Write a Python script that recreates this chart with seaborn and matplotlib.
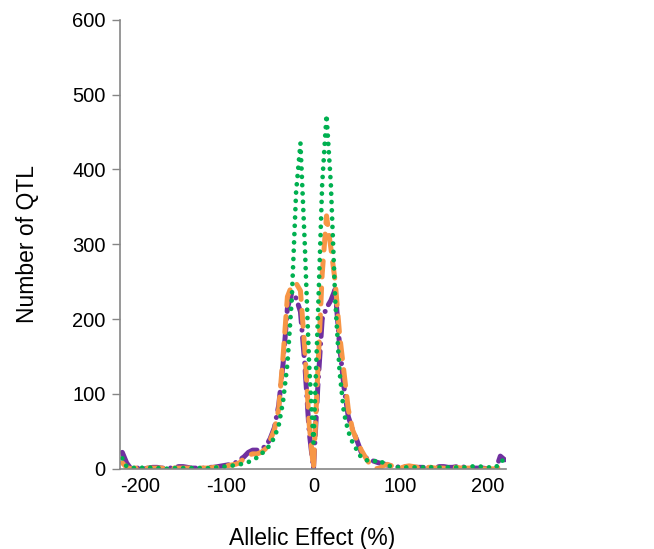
import numpy as np
import pandas as pd
import matplotlib
matplotlib.use("Agg")
import matplotlib.pyplot as plt
import seaborn as sns

# allelic effect bins (%)
effect = list(range(-220, 225, 5))

purple_counts = [
    # -220 .. -95
    22, 8, 0, 1, 1, 0, 1, 2, 2, 1, 1, 1, 2, 3, 3, 2, 1, 1, 1, 1, 2, 2, 3, 4, 5, 6,
    # -90 .. 90
    8, 12, 16, 22, 25, 25, 27, 30, 40, 55, 85, 140, 215, 235, 228, 210, 140, 50,
    0,
    110, 200, 215, 225, 240, 165, 110, 70, 52, 38, 22, 15, 12, 10, 8, 7, 5, 4,
    # 95 .. 220
    3, 2, 3, 3, 2, 2, 2, 2, 2, 2, 3, 3, 2, 2, 3, 3, 2, 1, 1, 1, 1, 0, 0, 0, 17, 12,
]
orange_counts = [
    8, 2, 0, 1, 1, 1, 1, 1, 1, 1, 0, 1, 1, 1, 1, 1, 1, 1, 1, 1, 1, 2, 2, 3, 4, 5,
    6, 8, 14, 18, 20, 20, 22, 27, 38, 52, 80, 150, 230, 245, 248, 238, 160, 60,
    0,
    130, 260, 338, 295, 250, 180, 130, 80, 52, 38, 25, 15, 6, 1, 0, 4, 6, 4,
    1, 1, 3, 4, 3, 2, 2, 2, 2, 1, 1, 1, 1, 2, 2, 1, 1, 1, 1, 1, 0, 0, 0, 0, 4, 8,
]
green_counts = [
    14, 3, 2, 1, 2, 1, 2, 1, 1, 1, 0, 1, 1, 2, 1, 1, 1, 2, 1, 1, 1, 2, 2, 3, 3, 4,
    5, 6, 7, 9, 12, 15, 20, 25, 32, 42, 58, 90, 140, 226, 370, 435, 300, 140,
    35,
    200, 380, 473, 380, 226, 130, 75, 50, 35, 25, 15, 12, 10, 10, 12, 8, 5, 3,
    2, 2, 2, 2, 2, 2, 2, 2, 2, 2, 2, 2, 2, 2, 2, 2, 2, 2, 4, 3, 3, 2, 2, 2, 10, 12,
]

y_ticks = [0, 100, 200, 300, 400, 500, 600]
x_ticks = [-200, -100, 0, 100, 200]

sns.set_style("white")
plt.rcParams["font.family"] = ["Liberation Sans", "DejaVu Sans"]
plt.rcParams["axes.unicode_minus"] = False
plt.rcParams["text.color"] = "black"
plt.rcParams["axes.labelcolor"] = "black"
plt.rcParams["xtick.color"] = "black"
plt.rcParams["ytick.color"] = "black"

df = pd.DataFrame({
    "effect": effect,
    "purple": purple_counts,
    "orange": orange_counts,
    "green": green_counts,
})

fig = plt.figure(figsize=(6.54, 5.49), dpi=100)
ax = fig.add_axes([0.183, 0.146, 0.59, 0.818])

sns.lineplot(data=df, x="effect", y="purple", ax=ax, color="#7030A0", lw=3.6,
             linestyle=(0, (3.6, 1.5, 0.01, 1.5)), dash_capstyle="round")
sns.lineplot(data=df, x="effect", y="orange", ax=ax, color="#F79646", lw=3.6,
             linestyle=(0, (3.2, 2.2)), dash_capstyle="round")
sns.lineplot(data=df, x="effect", y="green", ax=ax, color="#00B050", lw=3.4,
             linestyle=(0, (0.01, 1.75)), dash_capstyle="round")

ax.set_xlim(-223, 221)
ax.set_ylim(0, 600)
ax.set_yticks(y_ticks)
ax.set_xticks(x_ticks)
ax.tick_params(axis="y", length=6, width=1, color="#868686", labelcolor="black",
               direction="out", labelsize=14.5, pad=4, left=True)
ax.tick_params(axis="x", length=0, labelsize=14.5, labelcolor="black", pad=6)

for side in ["top", "right"]:
    ax.spines[side].set_visible(False)
for side in ["left", "bottom"]:
    ax.spines[side].set_color("#868686")
    ax.spines[side].set_linewidth(1.2)

ax.set_xlabel("Allelic Effect (%)", fontsize=16.5, labelpad=22, color="black")
ax.set_ylabel("Number of QTL", fontsize=16.5, labelpad=24, color="black")

fig.savefig("out.png", dpi=100)
